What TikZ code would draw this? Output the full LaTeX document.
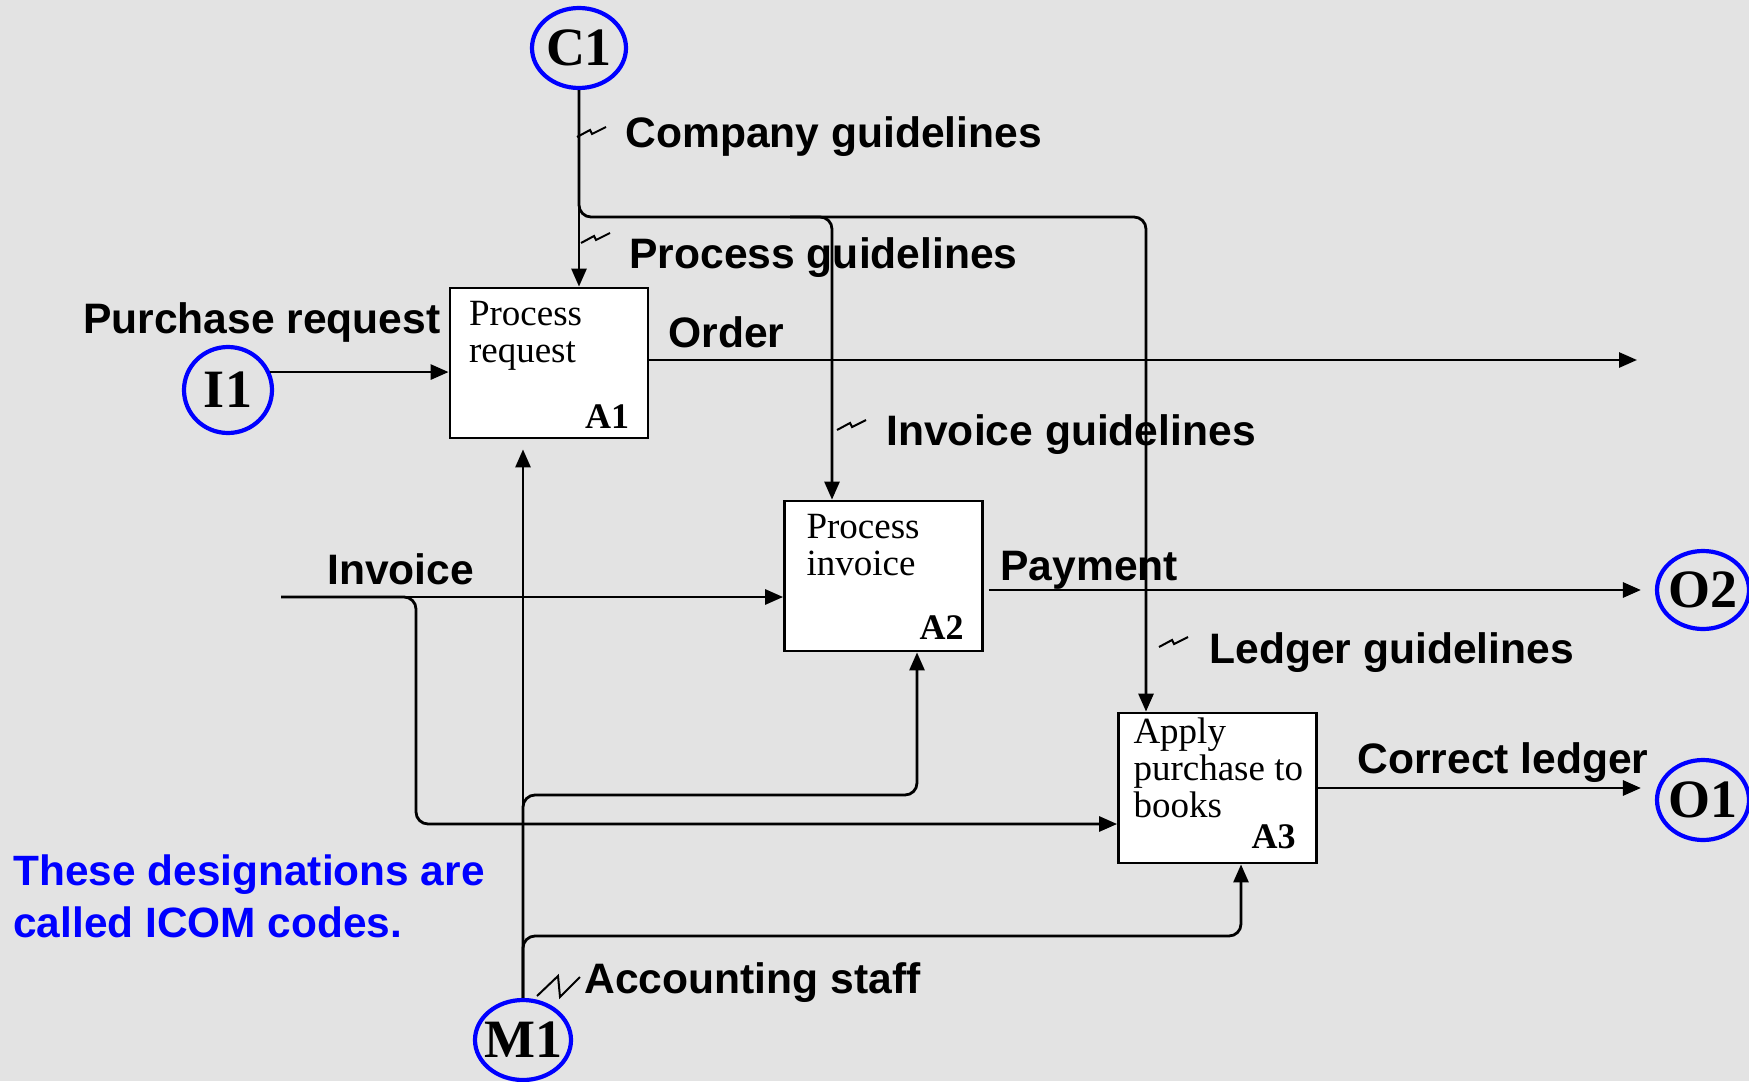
\documentclass[tikz,border=0pt]{standalone}
\usepackage{fontspec}
\setmainfont{Liberation Serif}
\newfontfamily\arialfont{Liberation Sans}
\usetikzlibrary{arrows.meta,shapes.geometric}
\definecolor{slidegray}{RGB}{227,227,227}
\definecolor{icomblue}{RGB}{0,0,255}
\newcommand{\squiggle}[1]{\draw[squig] (#1) -- ++(13,-7) -- ++(2,4) -- ++(14,-7);}

\begin{document}
\begin{tikzpicture}[x=0.5pt,y=-0.5pt]
\tikzset{every node/.style={inner sep=0pt}}
\tikzset{actbox/.style={draw,fill=white,line width=1.4pt,minimum width=99pt,minimum height=75pt}}
\tikzset{boxtext/.style={anchor=base west,align=left,font=\fontsize{18.5}{18.5}\selectfont}}
\tikzset{boxcode/.style={anchor=base east,font=\fontsize{18}{18}\selectfont\bfseries}}
\tikzset{icom/.style={ellipse,draw=icomblue,line width=2.1pt}}
\tikzset{icomtext/.style={font=\fontsize{27}{30}\selectfont\bfseries}}
\tikzset{flowlabel/.style={anchor=base west,font=\arialfont\bfseries\fontsize{21.3}{24}\selectfont}}
\tikzset{flow/.style={line width=1.4pt,-{Triangle[length=9pt,width=7.5pt]},rounded corners=6pt}}
\tikzset{squig/.style={line width=1pt}}

\fill[slidegray] (0,0) rectangle (1749,1081);
\useasboundingbox (0,0) rectangle (1749,1081);

\node[actbox] (A1) at (549,363) {};
\node[actbox] (A2) at (883.5,576) {};
\node[actbox] (A3) at (1217.5,788) {};
\node[boxtext] (A1txt) at ([shift={(20,76)}]A1.north west) {Process\\request};
\node[boxtext] (A2txt) at ([shift={(23,76)}]A2.north west) {Process\\invoice};
\node[boxtext] (A3txt) at ([shift={(16,106)}]A3.north west) {Apply\\purchase to\\books};
\node[boxcode] (A1code) at ([shift={(-20,-11)}]A1.south east) {A1};
\node[boxcode] (A2code) at ([shift={(-20,-13)}]A2.south east) {A2};
\node[boxcode] (A3code) at ([shift={(-22,-16)}]A3.south east) {A3};

\node[icom,minimum width=47pt,minimum height=40pt] (C1) at (579,48) {};
\node[icom,minimum width=44pt,minimum height=43pt] (I1) at (228,390) {};
\node[icom,minimum width=46pt,minimum height=39pt] (O2) at (1703,590) {};
\node[icom,minimum width=46pt,minimum height=40pt] (O1) at (1703,800) {};
\node[icom,minimum width=48pt,minimum height=40pt] (M1) at (523,1040) {};
\node[icomtext] (C1txt) at (C1) {C1};
\node[icomtext] (I1txt) at (I1) {I1};
\node[icomtext] (O2txt) at (O2) {O2};
\node[icomtext] (O1txt) at (O1) {O1};
\node[icomtext] (M1txt) at (M1) {M1};

\coordinate (ctrlbus) at (1146,217);
\coordinate (a2split) at (790,217);
\coordinate (a2ctrl) at (832,217);
\coordinate (orderend) at (1637,360);
\coordinate (invstart) at (281,597);
\coordinate (invdrop) at (416,824);
\coordinate (a2mech) at (917,795);
\coordinate (a3mech) at (1241,936);

\draw[flow] (C1.south) -- (C1.south |- A1.north);
\draw[flow] (C1.south) |- (ctrlbus) -- (ctrlbus |- A3.north);
\draw[flow] (a2split) -- (a2ctrl) -- (a2ctrl |- A2.north);
\draw[flow] (I1.23) -- (I1.23 -| A1.west);
\draw[flow] (A1.east |- orderend) -- (orderend);
\draw[flow] (invstart) -- (invstart -| A2.west);
\draw[flow] (invstart) -| (invdrop) -- (invdrop -| A3.west);
\draw[flow,shorten <=2.5pt,shorten >=7pt] (A2.east |- O2) -- (O2.west);
\draw[flow,shorten >=7pt] (A3.east) -- (A3.east -| O1.west);
\draw[flow,shorten >=5pt] (M1.north) -- (M1.north |- A1.south);
\draw[flow] (M1.north) |- (a2mech) -- (a2mech |- A2.south);
\draw[flow] (M1.north) |- (a3mech) -- (a3mech |- A3.south);

\squiggle{577,137}
\squiggle{581,243}
\squiggle{837,430}
\squiggle{1159,647}
\draw[squig] (537,996) -- (558,976) -- (560,997) -- (580,977);

\node[flowlabel] (lcompany) at (625,148) {Company guidelines};
\node[flowlabel] (lprocess) at (629,268) {Process guidelines};
\node[flowlabel,anchor=base east] (lpurchase) at (441,333) {Purchase request};
\node[flowlabel] (lorder) at (668,347) {Order};
\node[flowlabel] (linvguide) at (886,445) {Invoice guidelines};
\node[flowlabel] (linvoice) at (327,584) {Invoice};
\node[flowlabel] (lpayment) at (1000,580) {Payment};
\node[flowlabel] (lledger) at (1209,663) {Ledger guidelines};
\node[flowlabel] (lcorrect) at (1357,773) {Correct ledger};
\node[flowlabel] (lstaff) at (584,993) {Accounting staff};
\node[anchor=base west,align=left,text=icomblue,font=\arialfont\bfseries\fontsize{21.2}{26}\selectfont] (note) at (13,937) {These designations are\\called ICOM codes.};

\end{tikzpicture}
\end{document}
